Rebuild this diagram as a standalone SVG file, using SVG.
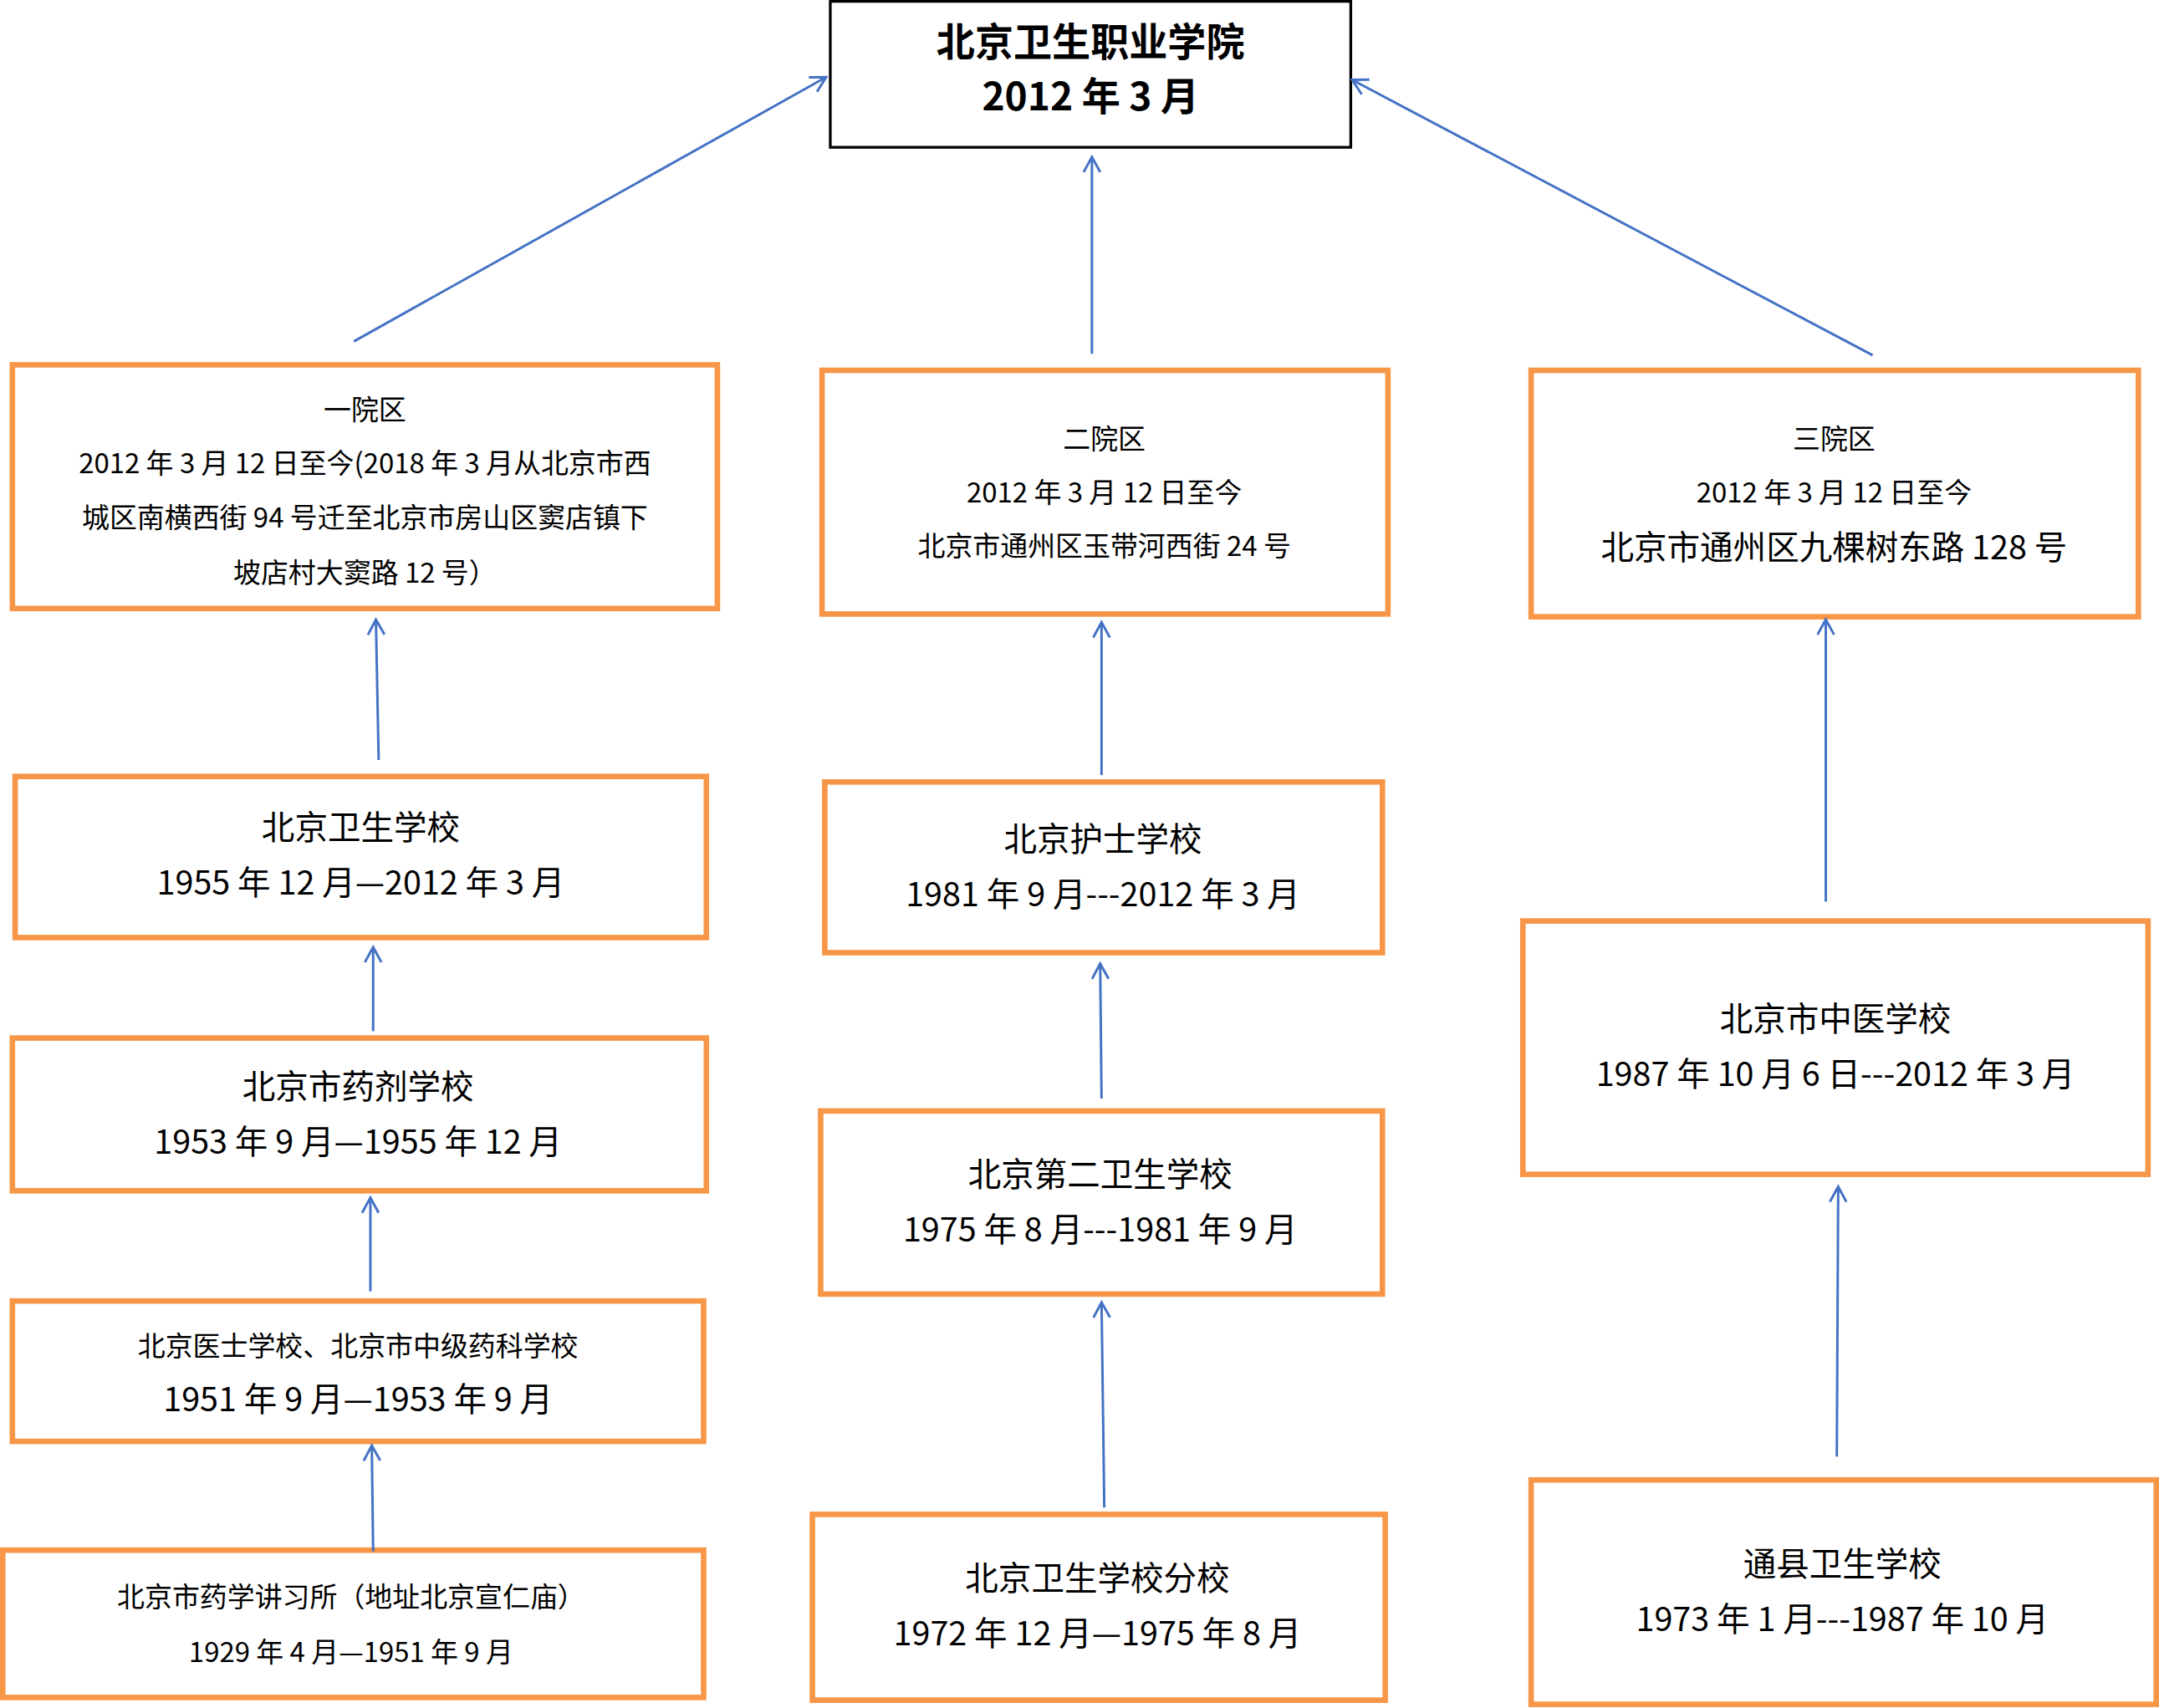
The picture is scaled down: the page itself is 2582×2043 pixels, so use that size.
<svg xmlns="http://www.w3.org/2000/svg" width="2582" height="2043" viewBox="0 0 2582 2043">
<style>
.o{fill:#fff;stroke:#F79646;stroke-width:4}
.k{fill:#fff;stroke:#000;stroke-width:2}
text{font-family:"Noto Sans CJK SC","Noto Sans",sans-serif;text-anchor:middle;fill:#000}
.s{font-size:20px}.m{font-size:24px}.b{font-size:28px;font-weight:bold}
.c line{stroke:#4472C4;stroke-width:1.8;marker-end:url(#a)}
</style>
<defs><marker id="a" markerWidth="14" markerHeight="14" refX="12" refY="7" orient="auto" markerUnits="userSpaceOnUse"><path d="M1,1 L12,7 L1,13" fill="none" stroke="#4472C4" stroke-width="1.8"/></marker></defs>
<rect width="2582" height="2043" fill="#fff"/>
<g transform="scale(1.6467)">
<g id="top"><rect class="k" x="603" y="1" width="378" height="106"/><text class="b" x="792" y="41">北京卫生职业学院</text><text class="b" x="792" y="80">2012 年 3  月</text></g>
<g id="y1"><rect class="o" x="9" y="265" width="512" height="177"/><text class="s" x="265" y="305">一院区</text><text class="s" x="265" y="344">2012 年 3 月 12 日至今(2018 年 3 月从北京市西</text><text class="s" x="265" y="383">城区南横西街 94 号迁至北京市房山区窦店镇下</text><text class="s" x="265" y="423">坡店村大窦路 12 号）</text></g>
<g id="y2"><rect class="o" x="597" y="269" width="411" height="177"/><text class="s" x="802" y="326">二院区</text><text class="s" x="802" y="365">2012 年 3 月 12 日至今</text><text class="s" x="802" y="404">北京市通州区玉带河西街 24 号</text></g>
<g id="y3"><rect class="o" x="1112" y="269" width="441" height="179"/><text class="s" x="1332" y="326">三院区</text><text class="s" x="1332" y="365">2012 年 3 月 12 日至今</text><text class="m" x="1332" y="406">北京市通州区九棵树东路 128 号</text></g>
<g id="l1"><rect class="o" x="11" y="564" width="502" height="117"/><text class="m" x="262" y="610">北京卫生学校</text><text class="m" x="262" y="650">1955 年 12 月—2012 年 3 月</text></g>
<g id="l2"><rect class="o" x="9" y="754" width="504" height="111"/><text class="m" x="260" y="798">北京市药剂学校</text><text class="m" x="260" y="838">1953 年 9 月—1955 年 12 月</text></g>
<g id="l3"><rect class="o" x="9" y="945" width="502" height="102"/><text class="s" x="260" y="985">北京医士学校、北京市中级药科学校</text><text class="m" x="260" y="1025">1951 年 9 月—1953 年 9 月</text></g>
<g id="l4"><rect class="o" x="2" y="1126" width="509" height="107"/><text class="s" x="255" y="1167">北京市药学讲习所（地址北京宣仁庙）</text><text class="s" x="255" y="1207">1929 年 4 月—1951 年 9 月</text></g>
<g id="m1"><rect class="o" x="599" y="568" width="405" height="124"/><text class="m" x="801" y="618">北京护士学校</text><text class="m" x="801" y="658">1981 年 9 月---2012 年 3 月</text></g>
<g id="m2"><rect class="o" x="596" y="807" width="408" height="133"/><text class="m" x="799" y="862">北京第二卫生学校</text><text class="m" x="799" y="902">1975 年 8 月---1981 年 9 月</text></g>
<g id="m3"><rect class="o" x="590" y="1100" width="416" height="135"/><text class="m" x="797" y="1155">北京卫生学校分校</text><text class="m" x="797" y="1195">1972 年 12 月—1975 年 8 月</text></g>
<g id="r1"><rect class="o" x="1106" y="669" width="454" height="184"/><text class="m" x="1333" y="749">北京市中医学校</text><text class="m" x="1333" y="789">1987 年 10  月 6 日---2012 年 3 月</text></g>
<g id="r2"><rect class="o" x="1112" y="1075" width="454" height="163"/><text class="m" x="1338" y="1145">通县卫生学校</text><text class="m" x="1338" y="1185">1973 年 1 月---1987 年 10 月</text></g>
<g class="c" id="connectors">
<line x1="257" y1="248" x2="600" y2="56"/>
<line x1="793" y1="257" x2="793" y2="114"/>
<line x1="1360" y1="258" x2="982" y2="58"/>
<line x1="275" y1="552" x2="273" y2="450"/>
<line x1="271" y1="749" x2="271" y2="688"/>
<line x1="269" y1="938" x2="269" y2="870"/>
<line x1="271" y1="1127" x2="270" y2="1050"/>
<line x1="800" y1="563" x2="800" y2="452"/>
<line x1="800" y1="798" x2="799" y2="700"/>
<line x1="802" y1="1095" x2="800" y2="946"/>
<line x1="1326" y1="655" x2="1326" y2="450"/>
<line x1="1334" y1="1058" x2="1335" y2="862"/>
</g>
</g>
</svg>
